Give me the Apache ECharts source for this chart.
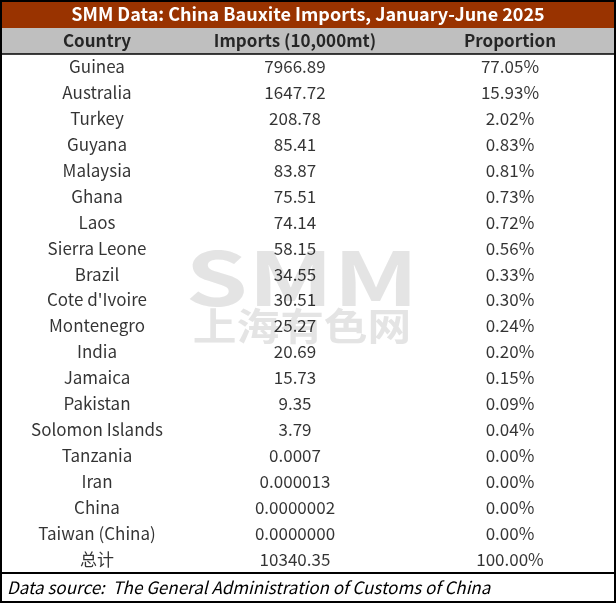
<!DOCTYPE html>
<html><head><meta charset="utf-8">
<script src="https://cdn.jsdelivr.net/npm/echarts@6/dist/echarts.min.js"></script>
<style>html,body{margin:0;padding:0;background:#fff}#c{width:616px;height:603px}</style>
</head><body><div id="c"></div>
<script>
const headers = ['Country', 'Imports (10,000mt)', 'Proportion']
const countries = ['Guinea', 'Australia', 'Turkey', 'Guyana', 'Malaysia', 'Ghana', 'Laos', 'Sierra Leone', 'Brazil', "Cote d'Ivoire", 'Montenegro', 'India', 'Jamaica', 'Pakistan', 'Solomon Islands', 'Tanzania', 'Iran', 'China', 'Taiwan (China)', '总计']
const imports = ['7966.89', '1647.72', '208.78', '85.41', '83.87', '75.51', '74.14', '58.15', '34.55', '30.51', '25.27', '20.69', '15.73', '9.35', '3.79', '0.0007', '0.000013', '0.0000002', '0.0000000', '10340.35']
const proportions = ['77.05%', '15.93%', '2.02%', '0.83%', '0.81%', '0.73%', '0.72%', '0.56%', '0.33%', '0.30%', '0.24%', '0.20%', '0.15%', '0.09%', '0.04%', '0.00%', '0.00%', '0.00%', '0.00%', '100.00%']

const colX = [97, 295, 510]
const font = '"Noto Sans CJK SC", "Noto Sans", sans-serif'
const rows = ['header'].concat(countries.map((c, i) => 'r' + i))

const cells = []
headers.forEach((h, j) => cells.push({ value: [colX[j], 0], text: h, label: { fontWeight: 'bold' } }))
countries.forEach((c, i) => {
  [c, imports[i], proportions[i]].forEach((t, j) => cells.push({ value: [colX[j], i + 1], text: t }))
})

const chart = echarts.init(document.getElementById('c'))
chart.setOption({
  animation: false,
  grid: { left: 0, right: 0, top: 28, bottom: 31 },
  xAxis: { type: 'value', min: 0, max: 616, show: false },
  yAxis: { type: 'category', data: rows, inverse: true, show: false },
  graphic: [
    { type: 'rect', shape: { x: 0, y: 0, width: 616, height: 28 }, style: { fill: '#993300' } },
    { type: 'text', x: 308, y: 14, style: { text: 'SMM Data: China Bauxite Imports, January-June 2025', fill: '#fff', font: 'bold 18px ' + font, align: 'center', verticalAlign: 'middle' } },
    { type: 'rect', shape: { x: 0, y: 28, width: 616, height: 26 }, style: { fill: '#bfbfbf' }, z: -1 },
    { type: 'text', x: 302, y: 278, scaleX: 1.35, style: { text: 'SMM', fill: 'rgba(205,205,205,0.55)', font: 'bold 74px ' + font, align: 'center', verticalAlign: 'middle' }, z: -1 },
    { type: 'text', x: 302, y: 326, scaleX: 1.15, style: { text: '上海有色网', fill: 'rgba(205,205,205,0.55)', font: 'bold 38px ' + font, align: 'center', verticalAlign: 'middle' }, z: -1 },
    { type: 'line', shape: { x1: 0, y1: 54, x2: 616, y2: 54 }, style: { stroke: '#000', lineWidth: 1.5 } },
    { type: 'line', shape: { x1: 0, y1: 573, x2: 616, y2: 573 }, style: { stroke: '#000', lineWidth: 2 } },
    { type: 'rect', shape: { x: 1, y: 1, width: 614, height: 601 }, style: { fill: 'none', stroke: '#000', lineWidth: 2 } },
    { type: 'text', x: 7, y: 588, style: { text: 'Data source:  The General Administration of Customs of China', fill: '#000', font: 'italic 17px ' + font, verticalAlign: 'middle' } }
  ],
  series: [{
    type: 'scatter',
    symbolSize: 0,
    data: cells,
    label: {
      show: true,
      position: 'inside',
      formatter: p => p.data.text,
      color: '#000',
      fontFamily: font,
      fontSize: 17
    },
    encode: { x: 0, y: 1 }
  }]
})
</script></body></html>
